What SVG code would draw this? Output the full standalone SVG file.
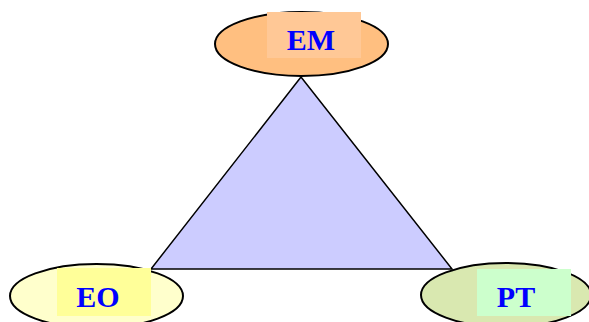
<svg xmlns="http://www.w3.org/2000/svg" width="589" height="322" viewBox="0 0 589 322">
<style>
.el{stroke:#000;stroke-width:2}
.lbl{font-family:"Liberation Serif",serif;font-weight:bold;font-size:30px;fill:#0000FF;text-anchor:middle}
</style>
<rect width="589" height="322" fill="#fff"/>
<g id="connectors">
<polygon points="301,77 151,269 452,269" fill="#CCCCFF" stroke="#000" stroke-width="1.5"/>
</g>
<g id="EM">
<ellipse class="el" cx="301.5" cy="44" rx="86.5" ry="32" fill="#FFBF80"/>
<rect x="267" y="12" width="94" height="46" fill="#FFC896"/>
<text class="lbl" x="311" y="50">EM</text>
</g>
<g id="EO">
<ellipse class="el" cx="96.5" cy="296" rx="86.5" ry="32" fill="#FFFFCC"/>
<rect x="57" y="268" width="94" height="48" fill="#FFFF99"/>
<text class="lbl" x="98" y="307">EO</text>
</g>
<g id="PT">
<ellipse class="el" cx="506" cy="295" rx="85" ry="32" fill="#D9E8B0"/>
<rect x="477" y="269" width="94" height="47" fill="#CCFFCC"/>
<text class="lbl" x="516" y="307">PT</text>
</g>
</svg>
